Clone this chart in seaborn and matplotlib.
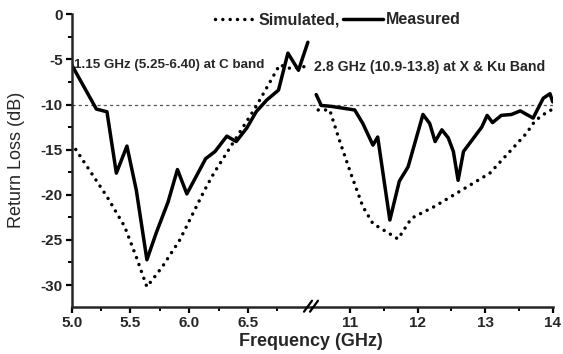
import numpy as np
import pandas as pd
import matplotlib
matplotlib.use("Agg")
import matplotlib.pyplot as plt
from matplotlib.lines import Line2D
from matplotlib.ticker import MultipleLocator, FixedLocator
import seaborn as sns

# ---------------- data ----------------
meas_c_freq = [5.0, 5.21, 5.30, 5.38, 5.47, 5.55, 5.64, 5.72, 5.82, 5.90, 5.98,
               6.14, 6.22, 6.32, 6.40, 6.49, 6.57, 6.66, 6.76, 6.84, 6.93, 7.01]
meas_c_rl = [-5.6, -10.5, -10.8, -17.6, -14.6, -19.5, -27.2, -24.2, -20.8, -17.2, -19.9,
             -16.0, -15.2, -13.5, -14.1, -12.6, -10.8, -9.5, -8.4, -4.3, -6.2, -3.1]

sim_c_freq = [5.0, 5.30, 5.45, 5.55, 5.64, 5.77, 5.92, 6.13, 6.21, 6.39, 6.57, 6.77, 6.86, 6.98]
sim_c_rl = [-14.3, -20.2, -23.5, -26.9, -30.2, -28.0, -25.0, -19.5, -17.6, -13.9, -10.2, -5.6, -6.0, -5.8]

meas_xku_freq = [10.50, 10.575, 10.72, 11.07, 11.19, 11.34, 11.41, 11.59, 11.73, 11.86,
                 12.08, 12.18, 12.26, 12.36, 12.455, 12.53, 12.60, 12.68, 12.83, 12.95,
                 13.03, 13.11, 13.24, 13.39, 13.52, 13.71, 13.86, 13.96, 14.0]
meas_xku_rl = [-8.9, -10.1, -10.2, -10.6, -12.1, -14.5, -13.6, -22.8, -18.5, -16.9,
               -11.1, -12.1, -14.1, -12.8, -13.7, -15.2, -18.4, -15.2, -13.7, -12.5,
               -11.2, -12.0, -11.2, -11.1, -10.7, -11.5, -9.3, -8.8, -9.7]

sim_xku_freq = [10.53, 10.70, 10.85, 11.02, 11.19, 11.34, 11.54, 11.71, 11.91, 12.25,
                12.65, 13.07, 13.39, 13.61, 13.73, 13.84, 14.0]
sim_xku_rl = [-10.6, -10.6, -14.1, -17.8, -21.3, -23.2, -24.1, -24.9, -22.6, -21.3,
              -19.5, -17.6, -15.0, -13.2, -11.9, -11.2, -10.5]

left_ticks = [5.0, 5.5, 6.0, 6.5]
left_tick_labels = ["5.0", "5.5", "6.0", "6.5"]
right_ticks = [11, 12, 13, 14]
right_tick_labels = ["11", "12", "13", "14"]
y_ticks = [-30, -25, -20, -15, -10, -5, 0]

annot_c = "1.15 GHz (5.25-6.40) at C band"
annot_xku = "2.8 GHz (10.9-13.8) at X & Ku Band"

# ---------------- style ----------------
sns.set_style("ticks")
plt.rcParams['font.family'] = ['Liberation Sans', 'DejaVu Sans']

W, H = 563, 354
fig = plt.figure(figsize=(W / 100, H / 100), dpi=100)

x0, xb, x1 = 71.7, 312.0, 552.7
ybot, ytop = 306.7, 14.3
bottom = 1 - ybot / H
height = (ybot - ytop) / H
axL = fig.add_axes([x0 / W, bottom, (xb - x0) / W, height])
axR = fig.add_axes([xb / W, bottom, (x1 - xb) / W, height])

meas_lw = 2.5
sim_style = dict(color='black', linewidth=2.5, linestyle=(0, (0.01, 2.1)),
                 dash_capstyle='round')

df_mc = pd.DataFrame({"f": meas_c_freq, "rl": meas_c_rl})
df_sc = pd.DataFrame({"f": sim_c_freq, "rl": sim_c_rl})
df_mx = pd.DataFrame({"f": meas_xku_freq, "rl": meas_xku_rl})
df_sx = pd.DataFrame({"f": sim_xku_freq, "rl": sim_xku_rl})

for ax in (axL, axR):
    ax.axhline(-10, color='#555555', linewidth=0.9, linestyle=(0, (2.5, 2.5)), zorder=1)

sns.lineplot(data=df_sc, x="f", y="rl", ax=axL, sort=False, **sim_style)
sns.lineplot(data=df_mc, x="f", y="rl", ax=axL, sort=False, color='black', linewidth=meas_lw)
sns.lineplot(data=df_sx, x="f", y="rl", ax=axR, sort=False, **sim_style)
sns.lineplot(data=df_mx, x="f", y="rl", ax=axR, sort=False, color='black', linewidth=meas_lw)

axL.set_xlim(5.0, 5.0 + (xb - x0) / 117.5)
axR.set_xlim(11 - (350 - xb) / 67.6, 14.0)
for ax in (axL, axR):
    ax.set_ylim(-32.4, 0)
    ax.set_xlabel("")
    ax.set_ylabel("")
    ax.patch.set_alpha(0)
    for s in ("top", "right"):
        ax.spines[s].set_visible(False)
    ax.spines["bottom"].set_linewidth(1.8)
    ax.spines["left"].set_linewidth(1.8)
    ax.tick_params(axis='both', which='major', direction='out', length=4.5, width=1.6,
                   labelsize=11, pad=2, color='black')
    ax.tick_params(axis='both', which='minor', direction='out', length=3, width=1.4,
                   color='black')

axR.spines["left"].set_visible(False)
axR.tick_params(axis='y', which='both', left=False, labelleft=False)

axL.xaxis.set_major_locator(FixedLocator(left_ticks))
axL.set_xticklabels(left_tick_labels)
axL.xaxis.set_minor_locator(FixedLocator([5.25, 5.75, 6.25, 6.75]))
axR.xaxis.set_major_locator(FixedLocator(right_ticks))
axR.set_xticklabels(right_tick_labels)
axR.xaxis.set_minor_locator(FixedLocator([11.5, 12.5, 13.5]))
axL.yaxis.set_major_locator(FixedLocator(y_ticks))
axL.yaxis.set_minor_locator(MultipleLocator(2.5))
axL.set_yticklabels([str(v) for v in y_ticks])

for ax in (axL, axR):
    for lab in ax.get_xticklabels() + ax.get_yticklabels():
        lab.set_fontweight('bold')

# axis break marks
for dx in (-4.0, 2.0):
    cx = xb + dx
    fig.add_artist(Line2D([(cx - 4) / W, (cx + 4) / W],
                          [1 - (ybot + 5) / H, 1 - (ybot - 6) / H],
                          color='black', linewidth=1.6))

# annotations
axL.text(5.02, -5.65, annot_c, fontsize=9.6, fontweight='bold', ha='left', va='center')
axR.text(10.47, -5.8, annot_xku, fontsize=10.2, fontweight='bold', ha='left', va='center')

# axis labels
fig.text(17 / W, 1 - 160 / H, "Return Loss (dB)", rotation=90, fontsize=13,
         ha='center', va='center')
fig.text(311 / W, 1 - 342 / H, "Frequency (GHz)", fontsize=13, fontweight='bold',
         ha='center', va='center')

# legend
handles = [Line2D([], [], **sim_style), Line2D([], [], color='black', linewidth=meas_lw)]
fig.legend(handles, ["Simulated,", "Measured"], loc='center', ncol=2,
           bbox_to_anchor=(338 / W, 1 - 20 / H), frameon=False,
           prop={'size': 11.5, 'weight': 'bold'}, handlelength=2.5,
           handletextpad=0.2, columnspacing=0.2, borderpad=0, borderaxespad=0)

fig.savefig("out.png", dpi=100)
